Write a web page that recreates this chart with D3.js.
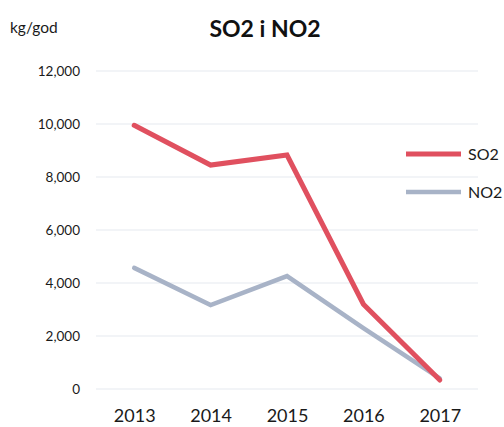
<!DOCTYPE html>
<html>
<head>
<meta charset="utf-8">
<script src="https://cdn.jsdelivr.net/npm/d3@7"></script>
<style>
  html, body { margin: 0; padding: 0; background: #fff; }
  svg { display: block; font-family: Lato, "Open Sans", sans-serif; }
</style>
</head>
<body>
<svg id="chart" width="504" height="427"></svg>
<script>
// Annual emissions, kg/god
const years = ["2013", "2014", "2015", "2016", "2017"];
const so2 = [9950, 8450, 8830, 3200, 340];
const no2 = [4570, 3170, 4260, 2300, 400];
const yTicks = [0, 2000, 4000, 6000, 8000, 10000, 12000];
const seriesNames = ["SO2", "NO2"];
const seriesColors = ["#E0505F", "#A8B3C7"];

const svg = d3.select("#chart");
const margin = { left: 96, right: 26, top: 71, bottom: 38 };
const W = 504, H = 427;

const x = d3.scalePoint()
  .domain(years)
  .range([margin.left, W - margin.right])
  .padding(0.5);

const y = d3.scaleLinear()
  .domain([0, 12000])
  .range([389, margin.top]);

// gridlines
svg.append("g")
  .selectAll("line")
  .data(yTicks)
  .join("line")
  .attr("x1", margin.left)
  .attr("x2", W - margin.right)
  .attr("y1", d => y(d))
  .attr("y2", d => y(d))
  .attr("stroke", "#E6EAF0")
  .attr("stroke-width", 1.2);

// y axis labels
const yAxis = d3.axisLeft(y)
  .tickValues(yTicks)
  .tickFormat(d3.format(","))
  .tickSize(0)
  .tickPadding(16);
const gy = svg.append("g")
  .attr("transform", `translate(${margin.left},0)`)
  .call(yAxis);
gy.select(".domain").remove();
gy.selectAll("text")
  .attr("font-size", 13.5)
  .attr("fill", "#1a1a1a")
  .attr("font-family", "Lato, sans-serif");

// x axis labels
const xAxis = d3.axisBottom(x).tickSize(0).tickPadding(20);
const gx = svg.append("g")
  .attr("transform", `translate(0,${y(0)})`)
  .call(xAxis);
gx.select(".domain").remove();
gx.selectAll("text")
  .attr("font-size", 18)
  .attr("fill", "#1a1a1a")
  .attr("font-family", "Lato, sans-serif");

// series lines
const line = d3.line()
  .x((d, i) => x(years[i]))
  .y(d => y(d));

const series = [so2, no2];
// draw NO2 first so SO2 sits on top
[1, 0].forEach(k => {
  svg.append("path")
    .datum(series[k])
    .attr("d", line)
    .attr("fill", "none")
    .attr("stroke", seriesColors[k])
    .attr("stroke-width", k === 0 ? 5 : 4.5)
    .attr("stroke-linejoin", "miter")
    .attr("stroke-linecap", "round");
});

// legend
const legend = svg.append("g");
seriesNames.forEach((name, i) => {
  const ly = 154 + i * 38;
  legend.append("line")
    .attr("x1", 406).attr("x2", 461)
    .attr("y1", ly).attr("y2", ly)
    .attr("stroke", seriesColors[i])
    .attr("stroke-width", i === 0 ? 5 : 4.5);
  legend.append("text")
    .attr("x", 468).attr("y", ly)
    .attr("dy", "0.36em")
    .attr("font-size", 16)
    .attr("fill", "#1a1a1a")
    .text(name);
});

// title and unit
svg.append("text")
  .attr("x", 265).attr("y", 37)
  .attr("text-anchor", "middle")
  .attr("font-size", 23)
  .attr("font-weight", "bold")
  .attr("fill", "#111")
  .text("SO2 i NO2");

svg.append("text")
  .attr("x", 10).attr("y", 33)
  .attr("font-size", 15.5)
  .attr("fill", "#1a1a1a")
  .text("kg/god");
</script>
</body>
</html>
